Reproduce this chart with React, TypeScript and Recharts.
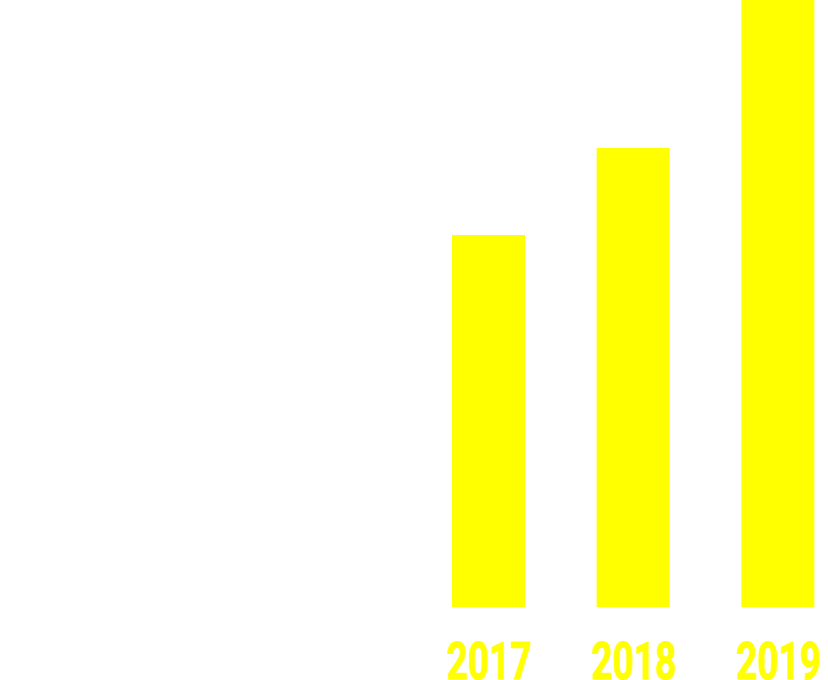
import { Bar, BarChart, XAxis, YAxis } from 'recharts'

const years = ['2017', '2018', '2019']
const values = [61.3, 75.6, 100]

const data = years.map((year, i) => ({ year, value: values[i] }))

// condensed look: squeeze the digits into the reference's label width
function YearTick({ x, y, payload }: any) {
  return (
    <text
      x={x + 1}
      y={y}
      dy="0.71em"
      textAnchor="middle"
      fill="#ffff00"
      stroke="#ffff00"
      strokeWidth={1}
      fontSize={51}
      fontWeight={700}
      fontFamily="Roboto, sans-serif"
      textLength={85}
      lengthAdjust="spacingAndGlyphs"
    >
      {payload.value}
    </text>
  )
}

export default function App() {
  return (
    <div style={{ position: 'absolute', left: 0, top: 0, width: 828, height: 680, overflow: 'hidden', background: '#fff' }}>
      <BarChart width={860} height={680} data={data} margin={{ top: 0, right: 10, bottom: 0, left: 416 }}>
        <XAxis
          dataKey="year"
          height={73}
          axisLine={false}
          tickLine={false}
          tickSize={0}
          tickMargin={36}
          interval={0}
          tick={<YearTick />}
        />
        <YAxis hide domain={[0, 100]} />
        <Bar dataKey="value" fill="#ffff00" barSize={73} isAnimationActive={false} />
      </BarChart>
    </div>
  )
}
